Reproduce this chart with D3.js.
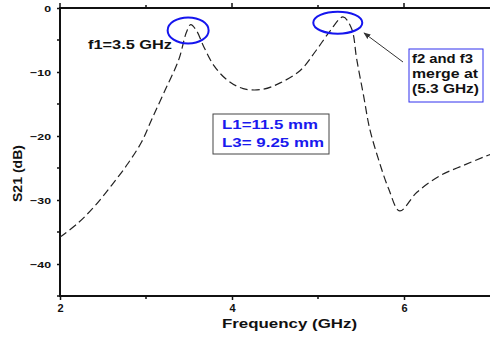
<!DOCTYPE html>
<html>
<head>
<meta charset="utf-8">
<script src="https://cdn.jsdelivr.net/npm/d3@7"></script>
<style>
  html, body { margin: 0; padding: 0; background: #fff; }
  svg { display: block; font-family: "Liberation Sans", Arial, sans-serif; }
</style>
</head>
<body>
<svg id="chart" width="490" height="337"></svg>
<script>
// Transmission response S21 versus frequency
const freqGHz = [2.0, 2.21, 2.4, 2.6, 2.79, 2.95, 3.07, 3.22, 3.38, 3.47, 3.52, 3.59, 3.67, 3.79, 3.94, 4.13, 4.36, 4.56, 4.79, 4.98, 5.14, 5.29, 5.39, 5.45, 5.53, 5.6, 5.7, 5.82, 5.95, 6.15, 6.42, 6.69, 6.96, 7.0];
const s21dB   = [-35.8, -33.6, -31.0, -27.7, -24.3, -20.9, -17.3, -12.9, -8.1, -3.8, -2.6, -3.6, -6.0, -9.0, -11.2, -12.6, -12.7, -11.7, -9.8, -6.6, -3.6, -1.4, -3.2, -8.0, -13.7, -18.8, -23.5, -28.2, -31.7, -28.8, -26.2, -24.6, -23.1, -22.9];

const xTicks = [2, 4, 6];
const xMinorTicks = [3, 5];
const yTicks = [0, -10, -20, -30, -40];
const yMinorTicks = [-5, -15, -25, -35, -45];

// Highlighted resonances (centre frequency, centre level)
const markerFreq = [3.49, 5.23];
const markerLevel = [-3.5, -2.3];

const svg = d3.select("#chart");
const x = d3.scaleLinear().domain([2, 7]).range([60, 490]);
const y = d3.scaleLinear().domain([0, -45]).range([8, 296]);

const ink = "#111";

// widen a text element horizontally by factor k
function stretch(sel, k) {
  sel.each(function () {
    const w = this.getComputedTextLength();
    d3.select(this).attr("textLength", w * k).attr("lengthAdjust", "spacingAndGlyphs");
  });
}

// Frame lines
svg.append("line").attr("x1", x(2)).attr("x2", 490).attr("y1", y(0)).attr("y2", y(0))
  .attr("stroke", ink).attr("stroke-width", 2);
svg.append("line").attr("x1", x(2)).attr("x2", 490).attr("y1", y(-45)).attr("y2", y(-45))
  .attr("stroke", ink).attr("stroke-width", 2);
svg.append("line").attr("x1", x(2)).attr("x2", x(2)).attr("y1", y(0) - 1).attr("y2", y(-45) + 1)
  .attr("stroke", ink).attr("stroke-width", 2);

// Bottom axis
const xAxis = d3.axisBottom(x).tickValues(xTicks).tickFormat(d3.format("d")).tickSize(4).tickPadding(5);
const gx = svg.append("g").attr("transform", `translate(0,${y(-45)})`).call(xAxis);
gx.select(".domain").remove();
gx.selectAll(".tick line").attr("stroke", ink).attr("stroke-width", 1.5);
gx.selectAll(".tick text").attr("fill", ink).attr("font-weight", "bold").attr("font-size", 10)
  .call(stretch, 1.1);
svg.append("g").selectAll("line").data(xMinorTicks).join("line")
  .attr("x1", d => x(d)).attr("x2", d => x(d))
  .attr("y1", y(-45)).attr("y2", y(-45) + 3)
  .attr("stroke", ink).attr("stroke-width", 1.5);

// Top axis ticks
svg.append("g").selectAll("line").data(xTicks.concat(xMinorTicks)).join("line")
  .attr("x1", d => x(d)).attr("x2", d => x(d))
  .attr("y1", y(0)).attr("y2", d => y(0) - (xTicks.includes(d) ? 5 : 3))
  .attr("stroke", ink).attr("stroke-width", 1.5);

// Left axis
const yAxis = d3.axisLeft(y).tickValues(yTicks).tickFormat(d3.format("d")).tickSize(3).tickPadding(6);
const gy = svg.append("g").attr("transform", `translate(${x(2)},0)`).call(yAxis);
gy.select(".domain").remove();
gy.selectAll(".tick line").attr("stroke", ink).attr("stroke-width", 1.5);
gy.selectAll(".tick text").attr("fill", ink).attr("font-weight", "bold").attr("font-size", 9.5)
  .call(stretch, 1.3);
svg.append("g").selectAll("line").data(yMinorTicks).join("line")
  .attr("x1", x(2)).attr("x2", x(2) - 3)
  .attr("y1", d => y(d)).attr("y2", d => y(d))
  .attr("stroke", ink).attr("stroke-width", 1.5);

// Axis titles
svg.append("text").attr("x", 222).attr("y", 327.5)
  .attr("font-size", 13).attr("font-weight", "bold").attr("fill", ink)
  .attr("textLength", 135).attr("lengthAdjust", "spacingAndGlyphs")
  .text("Frequency (GHz)");
svg.append("text").attr("transform", "translate(22,173.5) rotate(-90)").attr("text-anchor", "middle")
  .attr("font-size", 13).attr("font-weight", "bold").attr("fill", ink)
  .attr("textLength", 57).attr("lengthAdjust", "spacingAndGlyphs")
  .text("S21 (dB)");

// Measured curve
const line = d3.line().x((d, i) => x(freqGHz[i])).y(d => y(d)).curve(d3.curveCatmullRom.alpha(0.5));
svg.append("path").datum(s21dB).attr("d", line)
  .attr("fill", "none").attr("stroke", "#222").attr("stroke-width", 1.2)
  .attr("stroke-dasharray", "8,4");

// Resonance markers
svg.append("ellipse").attr("cx", x(markerFreq[0])).attr("cy", y(markerLevel[0]))
  .attr("rx", 20.5).attr("ry", 13).attr("fill", "none").attr("stroke", "#1515ee").attr("stroke-width", 2);
svg.append("ellipse").attr("cx", x(markerFreq[1])).attr("cy", y(markerLevel[1]))
  .attr("rx", 24.5).attr("ry", 11).attr("fill", "none").attr("stroke", "#1515ee").attr("stroke-width", 2);

svg.append("text").attr("x", 88).attr("y", 49).attr("font-size", 12).attr("font-weight", "bold")
  .attr("fill", ink).attr("textLength", 84).attr("lengthAdjust", "spacingAndGlyphs")
  .text("f1=3.5 GHz");

// Arrow to merged resonance
svg.append("defs").append("marker").attr("id", "arrowhead")
  .attr("viewBox", "0 0 10 10").attr("refX", 9).attr("refY", 5)
  .attr("markerWidth", 7).attr("markerHeight", 7).attr("orient", "auto")
  .append("path").attr("d", "M0,1 L10,5 L0,9 Z").attr("fill", "#333");
svg.append("line").attr("x1", 403).attr("y1", 62).attr("x2", 364).attr("y2", 33)
  .attr("stroke", "#333").attr("stroke-width", 1).attr("marker-end", "url(#arrowhead)");

// Note box
svg.append("rect").attr("x", 409).attr("y", 49).attr("width", 74).attr("height", 53)
  .attr("fill", "#fff").attr("stroke", "#3030ee").attr("stroke-width", 1);
const note = ["f2 and f3", "merge at", "(5.3 GHz)"];
const noteWidths = [61, 66, 67];
svg.append("g").selectAll("text").data(note).join("text")
  .attr("x", 412).attr("y", (d, i) => 63 + i * 15)
  .attr("font-size", 12).attr("font-weight", "bold").attr("fill", ink)
  .attr("textLength", (d, i) => noteWidths[i]).attr("lengthAdjust", "spacingAndGlyphs")
  .text(d => d);

// Dimension box
svg.append("rect").attr("x", 213).attr("y", 114).attr("width", 116).attr("height", 40)
  .attr("fill", "#fff").attr("stroke", "#444").attr("stroke-width", 1);
const dims = ["L1=11.5 mm", "L3= 9.25 mm"];
const dimWidths = [96, 102];
svg.append("g").selectAll("text").data(dims).join("text")
  .attr("x", 222).attr("y", (d, i) => 129 + i * 18)
  .attr("font-size", 12.5).attr("font-weight", "bold").attr("fill", "#1a1aee")
  .attr("textLength", (d, i) => dimWidths[i]).attr("lengthAdjust", "spacingAndGlyphs")
  .text(d => d);
</script>
</body>
</html>
